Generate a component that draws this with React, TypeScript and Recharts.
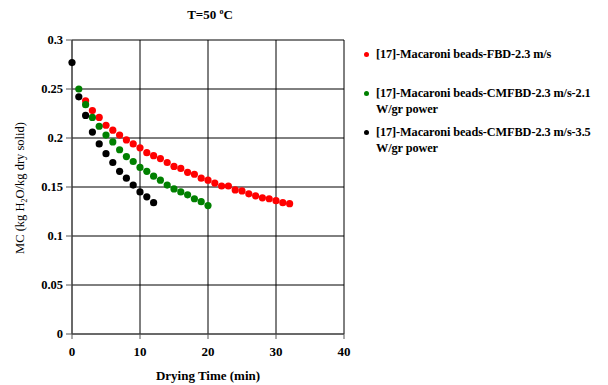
import { ScatterChart, Scatter, XAxis, YAxis, CartesianGrid } from 'recharts';

const fbdTime = [2, 3, 4, 5, 6, 7, 8, 9, 10, 11, 12, 13, 14, 15, 16, 17, 18, 19, 20, 21, 22, 23, 24, 25, 26, 27, 28, 29, 30, 31, 32];
const fbdMC = [0.238, 0.228, 0.221, 0.213, 0.208, 0.203, 0.198, 0.194, 0.190, 0.185, 0.182, 0.179, 0.175, 0.171, 0.169, 0.165, 0.163, 0.159, 0.157, 0.154, 0.151, 0.151, 0.147, 0.146, 0.143, 0.141, 0.139, 0.138, 0.136, 0.134, 0.133];

const cm21Time = [1, 2, 3, 4, 5, 6, 7, 8, 9, 10, 11, 12, 13, 14, 15, 16, 17, 18, 19, 20];
const cm21MC = [0.250, 0.234, 0.221, 0.212, 0.203, 0.196, 0.188, 0.181, 0.176, 0.170, 0.166, 0.161, 0.157, 0.152, 0.148, 0.145, 0.142, 0.138, 0.135, 0.131];

const cm35Time = [0, 1, 2, 3, 4, 5, 6, 7, 8, 9, 10, 11, 12];
const cm35MC = [0.277, 0.242, 0.223, 0.206, 0.194, 0.184, 0.175, 0.166, 0.159, 0.152, 0.145, 0.140, 0.134];

const xTicks = [0, 10, 20, 30, 40];
const yTicks = [0, 0.05, 0.1, 0.15, 0.2, 0.25, 0.3];

const series = [
  { name: '[17]-Macaroni beads-FBD-2.3 m/s', lines: ['[17]-Macaroni beads-FBD-2.3 m/s'], color: '#ff0000', data: fbdTime.map((t, i) => ({ t, mc: fbdMC[i] })) },
  { name: '[17]-Macaroni beads-CMFBD-2.3 m/s-2.1 W/gr power', lines: ['[17]-Macaroni beads-CMFBD-2.3 m/s-2.1', 'W/gr power'], color: '#008000', data: cm21Time.map((t, i) => ({ t, mc: cm21MC[i] })) },
  { name: '[17]-Macaroni beads-CMFBD-2.3 m/s-3.5 W/gr power', lines: ['[17]-Macaroni beads-CMFBD-2.3 m/s-3.5', 'W/gr power'], color: '#000000', data: cm35Time.map((t, i) => ({ t, mc: cm35MC[i] })) },
];

const font = '"Liberation Serif", "Times New Roman", serif';

const Dot = (props: any) => <circle cx={props.cx} cy={props.cy} r={3.6} fill={props.fill} />;

export default function App() {
  return (
    <div style={{ position: 'absolute', left: 0, top: 0, width: 608, height: 385, background: '#fff' }}>
      <ScatterChart width={608} height={385} margin={{ top: 40, right: 264, bottom: 21, left: 22 }}>
        <CartesianGrid stroke="#000" strokeWidth={1} horizontal vertical />
        <XAxis
          type="number"
          dataKey="t"
          domain={[0, 40]}
          ticks={xTicks}
          stroke="#555"
          tickSize={5}
          height={30}
          tick={{ fill: '#000', fontFamily: font, fontWeight: 'bold', fontSize: 13 }}
          tickMargin={8}
        />
        <YAxis
          type="number"
          dataKey="mc"
          domain={[0, 0.3]}
          ticks={yTicks}
          stroke="#555"
          tickSize={6}
          width={50}
          tickMargin={3}
          tick={{ fill: '#000', fontFamily: font, fontWeight: 'bold', fontSize: 12.5 }}
        />
        {series.map((s, i) => (
          <Scatter key={i} name={s.name} data={s.data} fill={s.color} shape={<Dot />} isAnimationActive={false} />
        ))}
        <text x={210} y={19} textAnchor="middle" fontFamily={font} fontWeight="bold" fontSize={13} fill="#000">
          T=50 <tspan fontSize={8} dy={-5}>o</tspan><tspan dy={5}>C</tspan>
        </text>
        <text x={208} y={380} textAnchor="middle" fontFamily={font} fontWeight="bold" fontSize={13} fill="#000">
          Drying Time (min)
        </text>
        <text transform="translate(24,188) rotate(-90)" textAnchor="middle" fontFamily={font} fontSize={12.5} fill="#000">
          MC (kg H<tspan fontSize={8} dy={3}>2</tspan><tspan dy={-3}>O/kg dry solid)</tspan>
        </text>
      </ScatterChart>
      <div style={{ position: 'absolute', left: 362, top: 46, width: 246, fontFamily: font, fontWeight: 'bold', fontSize: 12.3, color: '#000', letterSpacing: -0.1 }}>
        {series.map((s, i) => (
          <div key={i} style={{ position: 'relative', paddingLeft: 14, marginBottom: i === 0 ? 23 : 7, lineHeight: '16px', whiteSpace: 'nowrap' }}>
            <span style={{ position: 'absolute', left: 2, top: 6, width: 5, height: 5, borderRadius: 3, background: s.color }} />
            {s.lines.map((l, j) => <div key={j}>{l}</div>)}
          </div>
        ))}
      </div>
    </div>
  );
}
